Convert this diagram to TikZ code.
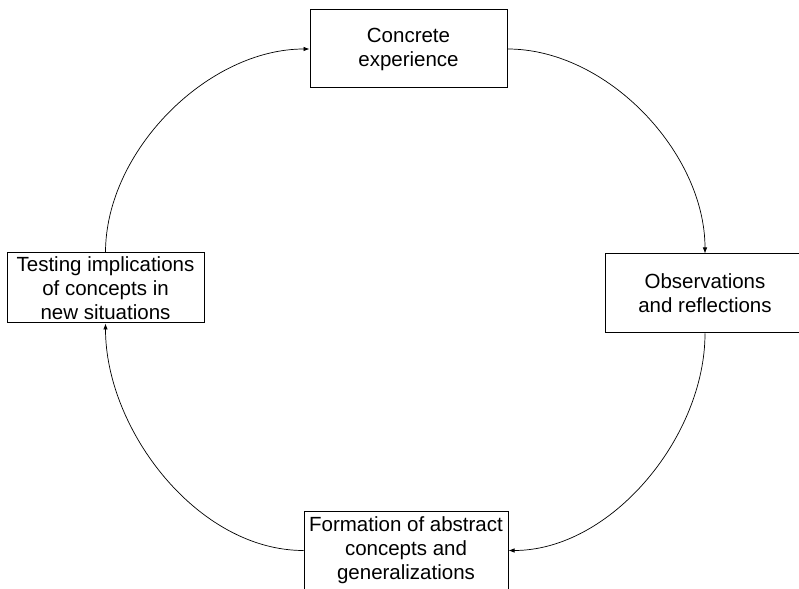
\documentclass[tikz,border=0pt]{standalone}
\usepackage{fontspec}
\setmainfont{Liberation Sans}
\usetikzlibrary{arrows.meta}
\begin{document}
\begin{tikzpicture}[x=1pt,y=1pt,
  stage/.style={draw=black, line width=1pt, rectangle, align=center,
    inner sep=0pt, fill=white, font=\fontsize{20.5}{24}\selectfont},
  flow/.style={line width=0.7pt, -{Latex[length=6pt,width=4.5pt]}, looseness=0.9}]
\clip (0,0) rectangle (799,588);
\fill[white] (0,0) rectangle (799,588);

% the four stages of the learning cycle
\node[stage, minimum width=197pt, minimum height=78pt] (conc) at (408.5,539)
  {Concrete\\experience};
\node[stage, minimum width=200pt, minimum height=79pt] (obs) at (705,294.5)
  {Observations\\and reflections};
\node[stage, minimum width=204pt, minimum height=77pt] (form) at (406,37.5)
  {Formation of abstract\\concepts and\\generalizations};
\node[stage, minimum width=197pt, minimum height=70pt] (test) at (105.5,300)
  {Testing implications\\of concepts in\\new situations};

% cycle arrows
\draw[flow] (conc.east) to[out=0,in=90] (obs.north);
\draw[flow] (obs.south) to[out=-90,in=0] (form.east);
\draw[flow] (form.west) to[out=180,in=-90] (test.south);
\draw[flow] (test.north) to[out=90,in=180] (conc.west);
\end{tikzpicture}
\end{document}
